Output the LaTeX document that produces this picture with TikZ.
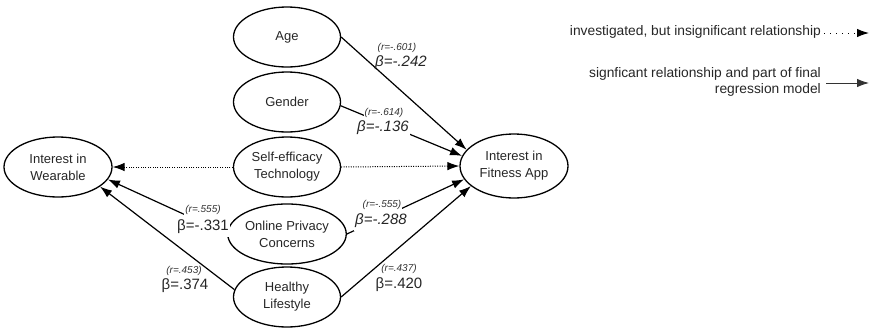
\documentclass[tikz,border=0pt]{standalone}
\usepackage{fontspec}
\setmainfont{Liberation Sans}
\usetikzlibrary{shapes.geometric,arrows.meta}
\begin{document}
\begin{tikzpicture}[x=1pt,y=-1pt,
  var/.style={draw, line width=1.3pt, ellipse, minimum width=107pt, minimum height=60pt,
    inner sep=0pt, align=center, font=\fontsize{13}{17}\selectfont, text=black!85},
  tipA/.style={-{Latex[length=12pt,width=8.5pt]}},
  rel/.style={line width=1.2pt, tipA},
  ins/.style={line width=1pt, dash pattern=on 1pt off 1.4pt, tipA},
  rlab/.style={font=\fontsize{10}{12}\selectfont\itshape, inner xsep=1pt, inner ysep=3pt, text=black!80},
  blab/.style={font=\fontsize{15}{17}\selectfont, inner xsep=1pt, inner ysep=3pt, text=black!85},
  cover/.style={fill=white},
  legtxt/.style={font=\fontsize{13.8}{16}\selectfont, align=right, anchor=east, inner sep=0pt, text=black!85}
]
\useasboundingbox (0,0) rectangle (871,327);

% variables
\node[var] (age) at (287,37) {Age};
\node[var] (gender) at (287,102) {Gender};
\node[var] (self) at (287,167) {Self-efficacy\\Technology};
\node[var] (priv) at (287,234) {Online Privacy\\Concerns};
\node[var] (healthy) at (287,297) {Healthy\\Lifestyle};
\node[var, minimum width=108pt] (wear) at (58,167) {Interest in\\Wearable};
\node[var, minimum width=108pt, minimum height=64pt] (fit) at (514,166) {Interest in\\Fitness App};

% connectors
\draw[rel] (age.east) -- (fit.161);
\draw[rel] (gender.-4) -- (fit.169);
\draw[ins] (self.east) -- (fit.west);
\draw[ins] (self.west) -- (wear.east);
\draw[rel] (priv.east) -- (fit.195);
\draw[rel] (priv.west) -- (wear.-14);
\draw[rel] (healthy.172) -- (wear.-25);
\draw[rel] (healthy.east) -- (fit.205);

% labels
\node[rlab] (r1) at (397,48) {(r=-.601)};
\node[blab] (b1) at (401,63) {\itshape β=-.242};
\node[rlab, cover] (r2) at (384,113) {(r=-.614)};
\node[blab, cover] (b2) at (383,128) {\itshape β=-.136};
\node[rlab, cover] (r3) at (382,205) {(r=-.555)};
\node[blab, cover] (b3) at (381,221) {\itshape β=-.288};
\node[blab, cover] (b4) at (203,227) {β=-.331};
\node[rlab, cover, inner ysep=4pt] (r4) at (203,210) {(r=.555)};
\node[rlab] (r5) at (184,271) {(r=.453)};
\node[blab] (b5) at (185,286) {β=.374};
\node[rlab] (r6) at (399,269) {(r=.437)};
\node[blab] (b6) at (399,285) {β=.420};

% legend
\node[legtxt] (leg1) at (821,32) {investigated, but insignificant relationship};
\coordinate (l1a) at (824,33);
\coordinate (l1b) at (869,33);
\draw[line width=1pt, dash pattern=on 1.2pt off 4.8pt, tipA] (l1a) -- (l1b);
\node[legtxt] (leg2) at (821,82) {signficant relationship and part of final\\regression model};
\coordinate (l2a) at (826,83);
\coordinate (l2b) at (869,83);
\draw[line width=0.9pt, black!80, tipA] (l2a) -- (l2b);
\end{tikzpicture}
\end{document}
